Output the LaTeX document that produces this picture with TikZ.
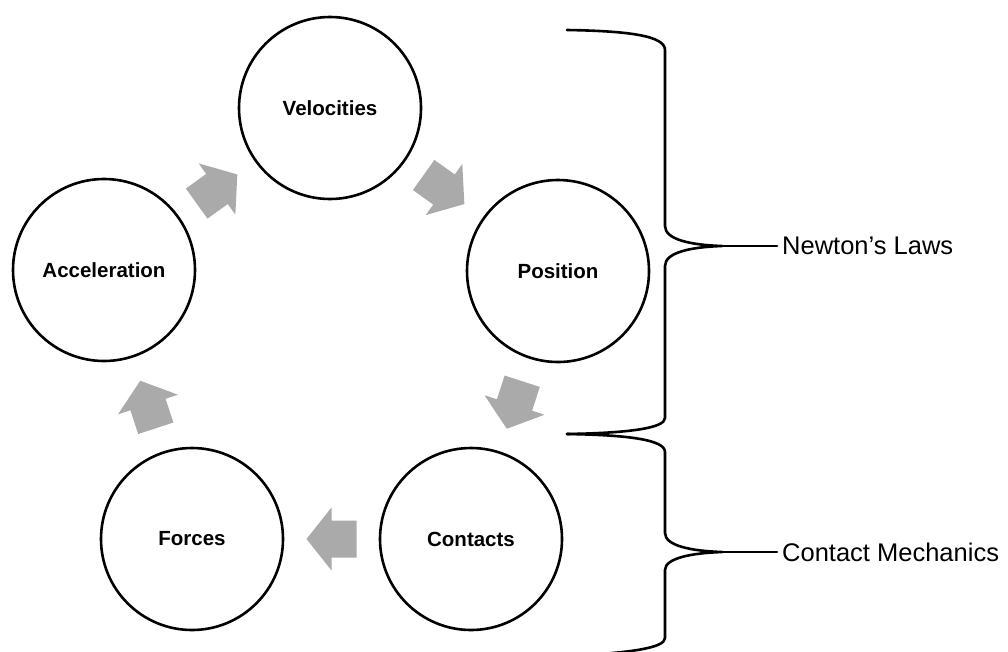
\documentclass[tikz,border=0pt]{standalone}
\usepackage{fontspec}
\setmainfont{Liberation Sans}
\usetikzlibrary{calc}
\definecolor{arrowgray}{RGB}{170,170,170}
\newcommand\flowarrow[2]{\path let \p1=($(#2)-(#1)$), \n1={atan2(\y1,\x1)} in ($(#1)!0.5!(#2)$) pic[rotate=\n1]{flow};}
\begin{document}
\begin{tikzpicture}[x=1pt,y=-1pt,
  stage/.style={circle,draw=black,line width=2.6pt,minimum size=182pt,inner sep=0pt,
    font=\fontsize{20.5}{24}\selectfont\bfseries},
  bracket/.style={line width=2.6pt,line join=round,line cap=round},
  side/.style={anchor=west,inner xsep=5pt,inner ysep=0pt,font=\fontsize{25.5}{30}\selectfont},
  pics/flow/.style={code={\fill[arrowgray] (-25,-18.5) -- (0,-18.5) -- (0,-31.5) -- (25,0) -- (0,31.5) -- (0,18.5) -- (-25,18.5) -- cycle;}}]
\useasboundingbox (0,0) rectangle (1008,651);
% stages
\node[stage] (vel) at (330,108) {Velocities};
\node[stage] (pos) at (558,271) {Position};
\node[stage] (con) at (471,539) {Contacts};
\node[stage] (frc) at (192,539) {Forces};
\node[stage] (acc) at (104,270) {Acceleration};
% cycle arrows
\flowarrow{acc}{vel}
\flowarrow{vel}{pos}
\flowarrow{pos}{con}
\flowarrow{con}{frc}
\flowarrow{frc}{acc}
% braces
\coordinate (tip1) at (722,246);
\coordinate (tip2) at (722,552);
\draw[bracket] (567,30) .. controls (630,31) and (665,36) .. (665,50) -- (665,226)
  .. controls (665,240) and (692,245) .. (tip1)
  .. controls (692,247) and (665,252) .. (665,266) -- (665,418)
  .. controls (665,428) and (630,433) .. (567,434);
\draw[bracket] (567,434) .. controls (630,435) and (665,440) .. (665,452) -- (665,533)
  .. controls (665,546) and (692,551) .. (tip2)
  .. controls (692,553) and (665,558) .. (665,570) -- (665,638)
  .. controls (665,648) and (630,653) .. (567,656);
\node[side] (newton) at (777,246) {Newton’s Laws};
\node[side] (contact) at (777,552) {Contact Mechanics};
\draw[bracket] (tip1) -- (newton.west);
\draw[bracket] (tip2) -- (contact.west);
\end{tikzpicture}
\end{document}
